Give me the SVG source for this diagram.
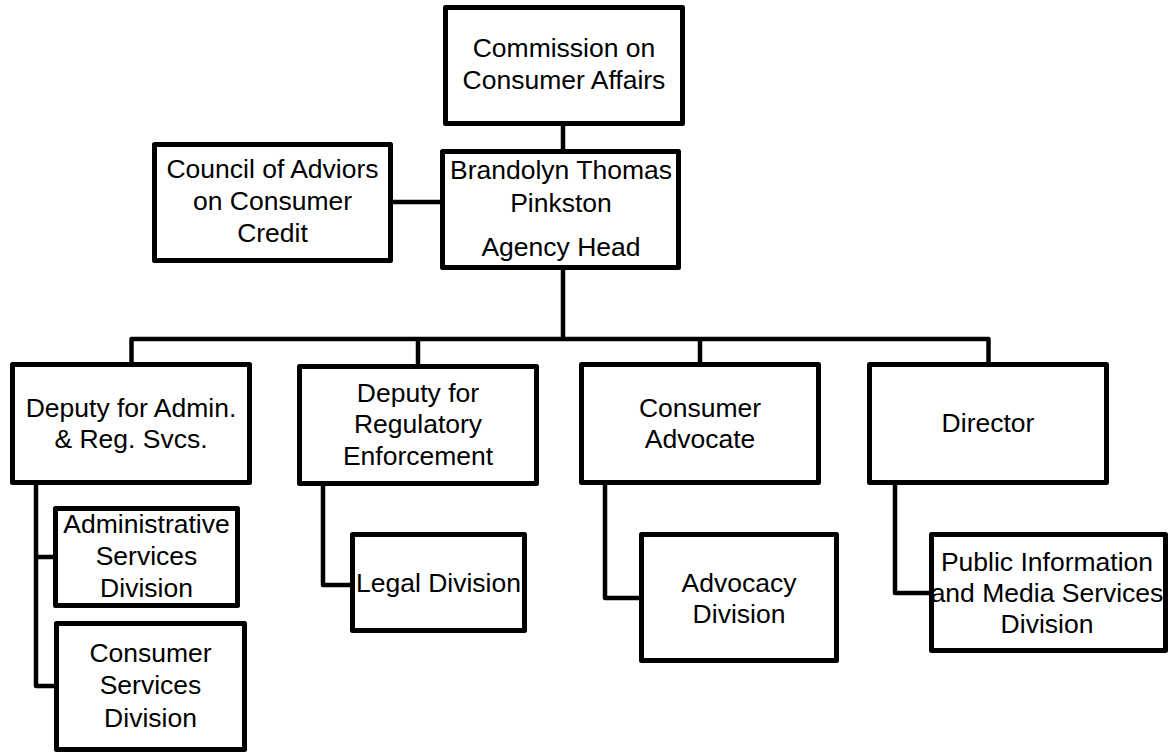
<svg xmlns="http://www.w3.org/2000/svg" width="1175" height="753" viewBox="0 0 1175 753">
<style>
.box{fill:#fff;stroke:#000;stroke-width:5;stroke-linejoin:round}
.con{fill:none;stroke:#000;stroke-width:4.5;stroke-linejoin:round}
text{font-family:"Liberation Sans",Arial,sans-serif;font-size:26.5px;fill:#000;text-anchor:middle}
</style>
<rect width="1175" height="753" fill="#fff"/>
<g id="connectors">
<path class="con" d="M563 126V149"/>
<path class="con" d="M393 202H440"/>
<path class="con" d="M563 270V339"/>
<path class="con" d="M131.5 364V339H988.5V362"/>
<path class="con" d="M418 339V364"/>
<path class="con" d="M700 339V362"/>
<path class="con" d="M36 485V686H54"/>
<path class="con" d="M36 557H53"/>
<path class="con" d="M323 486V585H350"/>
<path class="con" d="M605 485V598H639"/>
<path class="con" d="M895 485V593H929"/>
</g>
<g id="commission">
<rect class="box" x="445.5" y="7.5" width="237" height="116"/>
<text x="564" y="57">Commission on</text>
<text x="564" y="89">Consumer Affairs</text>
</g>
<g id="council">
<rect class="box" x="154.5" y="144.5" width="236" height="116"/>
<text x="272.5" y="178">Council of Adviors</text>
<text x="272.5" y="210">on Consumer</text>
<text x="272.5" y="242">Credit</text>
</g>
<g id="agency-head">
<rect class="box" x="442.5" y="151.5" width="236" height="116"/>
<text x="561" y="179">Brandolyn Thomas</text>
<text x="561" y="212">Pinkston</text>
<text x="561" y="256">Agency Head</text>
</g>
<g id="deputy-admin">
<rect class="box" x="12.5" y="364.5" width="237" height="118"/>
<text x="131" y="417">Deputy for Admin.</text>
<text x="131" y="448">&amp; Reg. Svcs.</text>
</g>
<g id="deputy-reg">
<rect class="box" x="299.5" y="366.5" width="237" height="117"/>
<text x="418" y="402">Deputy for</text>
<text x="418" y="433">Regulatory</text>
<text x="418" y="465">Enforcement</text>
</g>
<g id="consumer-advocate">
<rect class="box" x="581.5" y="364.5" width="237" height="118"/>
<text x="700" y="417">Consumer</text>
<text x="700" y="448">Advocate</text>
</g>
<g id="director">
<rect class="box" x="869.5" y="364.5" width="237" height="118"/>
<text x="988" y="432">Director</text>
</g>
<g id="admin-services">
<rect class="box" x="55.5" y="508.5" width="182" height="97"/>
<text x="146.5" y="533">Administrative</text>
<text x="146.5" y="565">Services</text>
<text x="146.5" y="597">Division</text>
</g>
<g id="consumer-services">
<rect class="box" x="56.5" y="623.5" width="188" height="126"/>
<text x="150.5" y="662">Consumer</text>
<text x="150.5" y="694">Services</text>
<text x="150.5" y="727">Division</text>
</g>
<g id="legal">
<rect class="box" x="352.5" y="534.5" width="172" height="96"/>
<text x="438.5" y="592">Legal Division</text>
</g>
<g id="advocacy">
<rect class="box" x="641.5" y="534.5" width="195" height="126"/>
<text x="739" y="592">Advocacy</text>
<text x="739" y="623">Division</text>
</g>
<g id="public-info">
<rect class="box" x="931.5" y="534.5" width="234" height="116"/>
<text x="1047" y="571">Public Information</text>
<text x="1047" y="602">and Media Services</text>
<text x="1047" y="633">Division</text>
</g>
</svg>
